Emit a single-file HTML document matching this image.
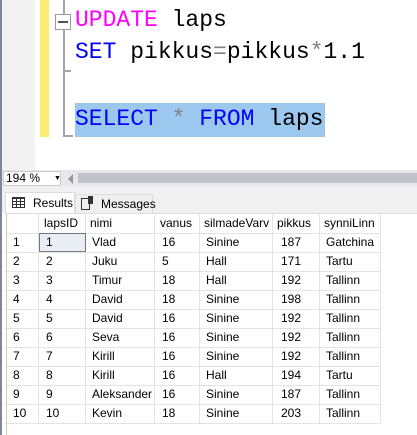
<!DOCTYPE html>
<html><head><style>
*{margin:0;padding:0;box-sizing:border-box}
body{width:417px;height:435px;overflow:hidden;background:#fff;position:relative;font-family:"Liberation Sans",sans-serif}
.a{position:absolute}
.code{font-family:"Liberation Mono",monospace;font-size:23px;white-space:pre;line-height:28px}
.cell{position:absolute;font-size:12px;color:#000;line-height:19px}
</style></head><body>
<div class="a" style="left:0;top:0;width:2px;height:435px;background:#7d8797"></div>
<div class="a" style="left:2px;top:0;width:33px;height:170px;background:#f2f2f2"></div>
<div class="a" style="left:40px;top:0;width:9px;height:137px;background:#fbed6f"></div>
<div class="a" style="left:63px;top:0;width:2px;height:137px;background:#a5a5a5"></div>
<div class="a" style="left:63px;top:70px;width:8px;height:2px;background:#a5a5a5"></div>
<div class="a" style="left:63px;top:135px;width:10px;height:2px;background:#a5a5a5"></div>
<div class="a" style="left:55px;top:14px;width:16px;height:16px;border:1px solid #999;background:#fff"></div>
<div class="a" style="left:58px;top:21px;width:10px;height:2px;background:#555"></div>
<div class="a" style="left:75px;top:103px;width:250px;height:34px;background:#9cc8ef"></div>
<div class="a code" style="left:75px;top:6px;color:#ff00ff">UPDATE <span style="color:#000">laps</span></div>
<div class="a code" style="left:75px;top:38px;color:#0000ff">SET <span style="color:#000">pikkus</span><span style="color:#808080">=</span><span style="color:#000">pikkus</span><span style="color:#808080">*</span><span style="color:#000">1.1</span></div>
<div class="a code" style="left:75px;top:105px;color:#0000ff">SELECT <span style="color:#808080">*</span> FROM <span style="color:#000">laps</span></div>
<div class="a" style="left:2px;top:170px;width:415px;height:16px;background:#e8e8ec"></div>
<div class="a" style="left:3px;top:171px;width:58px;height:15px;background:#fff;border:1px solid #ccc;font-size:12px;line-height:13px;padding-left:2px">194 %<span style="position:absolute;left:50px;top:0;font-size:7px">▼</span></div>
<div class="a" style="left:68px;top:174px;width:0;height:0;border-top:5px solid transparent;border-bottom:5px solid transparent;border-right:5px solid #999"></div>
<div class="a" style="left:78px;top:173px;width:339px;height:10px;background:#c2c3c9"></div>
<div class="a" style="left:2px;top:186px;width:415px;height:27px;background:#f0f0f0"></div>
<div class="a" style="left:5px;top:192px;width:70px;height:22px;background:#fff;border:1px solid #ddd;border-bottom:none;font-size:12px;line-height:20px;padding-left:27px">Results</div>
<div class="a" style="left:12px;top:197px;width:13px;height:11px;border:1px solid #333;background:repeating-linear-gradient(90deg,transparent 0 3px,#333 3px 4px),repeating-linear-gradient(0deg,transparent 0 2px,#333 2px 3px)"></div>
<div class="a" style="left:75px;top:194px;width:78px;height:19px;background:#f0f0f0;border:1px solid #ddd;border-bottom:none;font-size:12px;line-height:18px;padding-left:25px">Messages</div>
<div class="a" style="left:81px;top:198px;width:9px;height:12px;border:1px solid #333"></div>
<div class="a" style="left:88px;top:196px;width:5px;height:8px;background:#333"></div>
<div class="a" style="left:6px;top:213px;width:411px;height:222px;background:#fff;border-left:1px solid #c8c8c8;border-top:1px solid #ddd"></div>
<svg class="a" style="left:0;top:0" width="417" height="435">
<g stroke="#e3e3e3" stroke-width="1">
<line x1="38.5" y1="213" x2="38.5" y2="423"/><line x1="85.5" y1="213" x2="85.5" y2="423"/>
<line x1="154.5" y1="213" x2="154.5" y2="423"/><line x1="199.5" y1="213" x2="199.5" y2="423"/>
<line x1="272.5" y1="213" x2="272.5" y2="423"/><line x1="319.5" y1="213" x2="319.5" y2="423"/>
<line x1="380.5" y1="213" x2="380.5" y2="423"/>
<line x1="7" y1="233.5" x2="380" y2="233.5"/><line x1="7" y1="252.5" x2="380" y2="252.5"/>
<line x1="7" y1="271.5" x2="380" y2="271.5"/><line x1="7" y1="290.5" x2="380" y2="290.5"/>
<line x1="7" y1="309.5" x2="380" y2="309.5"/><line x1="7" y1="328.5" x2="380" y2="328.5"/>
<line x1="7" y1="347.5" x2="380" y2="347.5"/><line x1="7" y1="366.5" x2="380" y2="366.5"/>
<line x1="7" y1="385.5" x2="380" y2="385.5"/><line x1="7" y1="404.5" x2="380" y2="404.5"/>
<line x1="7" y1="423.5" x2="380" y2="423.5"/>
</g>
<rect x="39.5" y="233.5" width="46" height="18" fill="#e8eef4" stroke="#000" stroke-dasharray="1,1"/>
</svg>
<div class="cell" style="left:44px;top:214px">lapsID</div><div class="cell" style="left:90px;top:214px">nimi</div><div class="cell" style="left:160px;top:214px">vanus</div><div class="cell" style="left:204px;top:214px">silmadeVarv</div><div class="cell" style="left:277px;top:214px">pikkus</div><div class="cell" style="left:324px;top:214px">synniLinn</div>
<div id="rows"></div>
<script>
var d=[["Vlad",16,"Sinine",187,"Gatchina"],["Juku",5,"Hall",171,"Tartu"],["Timur",18,"Hall",192,"Tallinn"],["David",18,"Sinine",198,"Tallinn"],["David",16,"Sinine",192,"Tallinn"],["Seva",16,"Sinine",192,"Tallinn"],["Kirill",16,"Sinine",192,"Tallinn"],["Kirill",16,"Hall",194,"Tartu"],["Aleksander",16,"Sinine",187,"Tallinn"],["Kevin",18,"Sinine",203,"Tallinn"]];
var h="",xs=[13,46,92,162,206,281,326];
d.forEach(function(r,i){var v=[i+1,i+1].concat(r),y=233+i*19;v.forEach(function(t,j){h+='<div class="cell" style="left:'+xs[j]+'px;top:'+y+'px">'+t+'</div>'})});
document.getElementById("rows").innerHTML=h;
</script>
</body></html>
